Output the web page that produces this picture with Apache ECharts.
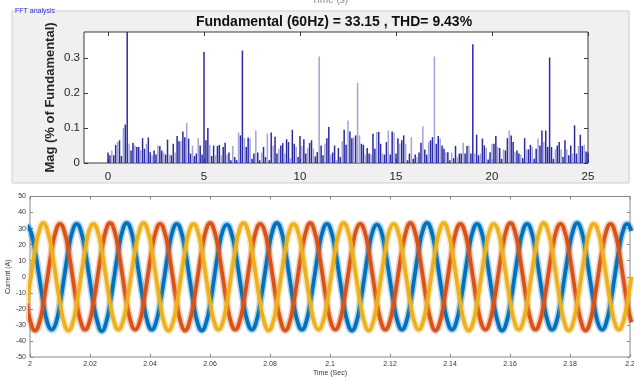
<!DOCTYPE html>
<html><head><meta charset="utf-8">
<script src="https://cdn.jsdelivr.net/npm/echarts@6/dist/echarts.min.js"></script>
<style>html,body{margin:0;padding:0;background:#fff}#c{width:634px;height:381px}</style>
</head><body><div id="c"></div>
<script>
// ---- FFT panel data: harmonic order 0..25 step 0.1, magnitude (% of fundamental)
const harmonicStep = 0.1;
const harmonicMag = [
  0.03, 0.022, 0.036, 0.022, 0.052, 0.06, 0.065, 0.02, 0.1, 0.11,
  100, 0.055, 0.036, 0.057, 0.05, 0.046, 0.046, 0.036, 0.071, 0.041,
  0.055, 0.073, 0.031, 0.022, 0.036, 0.024, 0.05, 0.049, 0.036, 0.03,
  0.024, 0.067, 0.024, 0.022, 0.055, 0.03, 0.077, 0.062, 0.062, 0.09,
  0.074, 0.115, 0.07, 0.027, 0.05, 0.02, 0.027, 0.071, 0.05, 0.024,
  0.318, 0.065, 0.1, 0.052, 0.02, 0.05, 0.022, 0.049, 0.052, 0.022,
  0.046, 0.058, 0.024, 0.03, 0.008, 0.049, 0.017, 0.008, 0.087, 0.079,
  0.322, 0.071, 0.046, 0.073, 0.071, 0.012, 0.027, 0.093, 0.03, 0.008,
  0.03, 0.046, 0.017, 0.084, 0.008, 0.087, 0.05, 0.075, 0.027, 0.041,
  0.05, 0.057, 0.027, 0.068, 0.06, 0.014, 0.095, 0.055, 0.046, 0.017,
  0.077, 0.049, 0.068, 0.027, 0.043, 0.057, 0.065, 0.041, 0.019, 0.031,
  0.305, 0.05, 0.022, 0.055, 0.071, 0.103, 0.024, 0.03, 0.05, 0.008,
  0.043, 0.017, 0.062, 0.095, 0.052, 0.122, 0.09, 0.071, 0.074, 0.079,
  0.23, 0.079, 0.055, 0.052, 0.024, 0.043, 0.027, 0.024, 0.084, 0.041,
  0.089, 0.089, 0.055, 0.027, 0.024, 0.06, 0.093, 0.024, 0.09, 0.087,
  0.027, 0.071, 0.055, 0.065, 0.079, 0.055, 0.008, 0.027, 0.074, 0.012,
  0.024, 0.017, 0.03, 0.058, 0.105, 0.039, 0.024, 0.06, 0.065, 0.074,
  0.305, 0.055, 0.077, 0.07, 0.05, 0.041, 0.031, 0.031, 0.008, 0.03,
  0.014, 0.049, 0.017, 0.027, 0.027, 0.058, 0.027, 0.049, 0.05, 0.027,
  0.34, 0.027, 0.081, 0.022, 0.027, 0.07, 0.05, 0.043, 0.01, 0.031,
  0.055, 0.055, 0.077, 0.046, 0.043, 0.012, 0.039, 0.036, 0.071, 0.093,
  0.079, 0.06, 0.031, 0.036, 0.027, 0.024, 0.014, 0.071, 0.039, 0.039,
  0.052, 0.046, 0.012, 0.041, 0.07, 0.05, 0.093, 0.06, 0.093, 0.046,
  0.302, 0.046, 0.012, 0.039, 0.05, 0.06, 0.039, 0.017, 0.065, 0.039,
  0.022, 0.05, 0.027, 0.108, 0.027, 0.049, 0.081, 0.049, 0.052, 0.033,
  0.03
];
const fftXTicks = [0, 5, 10, 15, 20, 25];
const fftYTicks = [0, 0.1, 0.2, 0.3];
const fftTitle = 'Fundamental (60Hz) = 33.15 , THD= 9.43%';

// ---- Three-phase current samples (A), sampled every timeStep seconds from timeStart
const timeStart = 1.9989;
const timeStep = 0.00139;
const phaseBlue = [
  32, 28, 16, 0, -16.5, -29, -33, -29, -16.5, 0, 16.5, 28.5,
  33, 28.5, 16.5, 0, -16.5, -28.5, -34, -29, -16.5, 0, 16.5, 29,
  33.5, 29, 16.5, 0.5, -16, -28.5, -33, -28.5, -16.5, -0.5, 16, 28.5,
  33, 28.5, 16.5, 0, -16.5, -29, -33.5, -29, -17, 0, 16.5, 28.5,
  32.5, 28, 16.5, 0, -16.5, -28.5, -33, -28.5, -16.5, 0, 16.5, 29,
  33.5, 29, 16.5, 0, -16.5, -28.5, -33, -28.5, -16, 0, 16.5, 28.5,
  33, 28.5, 16.5, 0, -16.5, -29, -33.5, -29, -16.5, 0, 16.5, 28.5,
  32.5, 28.5, 16, 0, -16.5, -28.5, -33, -28.5, -16.5, 0, 16.5, 29,
  33.5, 29, 16.5, 0, -16.5, -28.5, -33, -28.5, -16.5, 0, 16.5, 28.5,
  33, 28.5, 16.5, 0, -16.5, -28.5, -33.5, -29, -16.5, 0, 16.5, 28.5,
  33, 28.5, 16.5, 0, -16.5, -28.5, -33, -28.5, -16.5, 0, 16.5, 28.5,
  33.5, 29, 16.5, 0, -16.5, -29, -33, -28.5, -16.5, 0, 16.5, 28.5,
  33, 28.5
];
const phaseRed = [
  -16.5, -29, -33.5, -29, -16.5, 0, 16.5, 28.5, 33, 28.5, 16.5, 0,
  -16.5, -28.5, -33, -28.5, -16.5, 0, 16.5, 29, 33.5, 29, 16.5, 0,
  -16.5, -28.5, -33, -29, -16.5, 0, 16.5, 28.5, 33, 28.5, 16.5, 0,
  -16.5, -29, -33.5, -28.5, -16.5, 0, 16.5, 29, 33.5, 28.5, 16.5, 0,
  -16.5, -28.5, -33, -28.5, -16.5, 0, 16.5, 28.5, 33, 29, 16.5, 0,
  -16.5, -28.5, -33.5, -29, -16.5, 0, 16.5, 28.5, 33.5, 28.5, 16.5, 0,
  -16.5, -29, -33, -28.5, -16.5, 0, 16.5, 29, 33, 28.5, 16.5, 0,
  -16.5, -28.5, -33, -28.5, -16.5, 0, 16.5, 28.5, 33.5, 29, 16.5, 0,
  -16.5, -28.5, -33.5, -29, -16.5, 0, 16.5, 28.5, 33, 28.5, 16.5, 0,
  -16.5, -29, -33, -28.5, -16.5, 0, 16.5, 29, 33.5, 29, 16.5, 0,
  -16.5, -28.5, -33, -28.5, -16.5, 0, 16.5, 28.5, 33, 28.5, 16.5, 0,
  -16.5, -28.5, -33.5, -29, -16.5, 0, 16.5, 28.5, 33, 28.5, 16.5, 0,
  -16.5, -28.5
];
const phaseYellow = [
  -16.5, 0, 16.5, 28.5, 33.5, 28.5, 16.5, 0, -16.5, -29, -33.5, -29,
  -16.5, 0, 16.5, 29, 33, 28.5, 16.5, 0, -16.5, -28.5, -33, -28.5,
  -16.5, 0, 16.5, 28.5, 33.5, 29, 16.5, 0, -16.5, -29, -33.5, -29,
  -16.5, 0, 16.5, 28.5, 33, 28.5, 16.5, 0, -16.5, -28.5, -33, -28.5,
  -16.5, 0, 16.5, 29, 33.5, 29, 16.5, 0, -16.5, -28.5, -33.5, -29,
  -16.5, 0, 16.5, 28.5, 33, 28.5, 16.5, 0, -16.5, -29, -33, -28.5,
  -16.5, 0, 16.5, 28.5, 33.5, 29, 16.5, 0, -16.5, -28.5, -33.5, -29,
  -16.5, 0, 16.5, 29, 33, 28.5, 16.5, 0, -16.5, -28.5, -33, -28.5,
  -16.5, 0, 16.5, 28.5, 33.5, 28.5, 16.5, 0, -16.5, -29, -33.5, -29,
  -16.5, 0, 16.5, 28.5, 33, 29, 16.5, 0, -16.5, -28.5, -33, -28.5,
  -16.5, 0, 16.5, 29, 33.5, 28.5, 16.5, 0, -16.5, -29, -33.5, -29,
  -16.5, 0, 16.5, 28.5, 33, 28.5, 16.5, 0, -16.5, -28.5, -33, -28.5,
  -16.5, 0
];
const phaseColors = ['#0072BD', '#D95319', '#EDB120'];

const FONT = 'Liberation Sans, Arial, sans-serif';
const chart = echarts.init(document.getElementById('c'), null, {renderer: 'canvas'});

const toPairs = arr => arr.map((v, k) => [timeStart + k * timeStep, v]);
const fftData = harmonicMag.map((v, i) => [Math.round(i * harmonicStep * 10) / 10, v]);
const lightPeaks = [110, 130, 170], darkPeaks = [10, 50, 70, 190, 230];
const barColor = p => {
  const i = p.dataIndex;
  const light = lightPeaks.includes(i) || (!darkPeaks.includes(i) && i % 3 === 2);
  return light ? '#a3a3d8' : '#2a2aa3';
};

const fftAxisLabel = {fontSize: 11.5, color: '#262626', fontFamily: FONT};
const tickStyle = c => ({lineStyle: {color: c, width: 1}});
const noLine = {show: false, onZero: false};

const waveSeries = [];
[phaseBlue, phaseRed, phaseYellow].forEach((arr, n) => {
  waveSeries.push({
    type: 'line', xAxisIndex: 2, yAxisIndex: 2, data: toPairs(arr), smooth: true,
    showSymbol: false, silent: true, animation: false,
    lineStyle: {color: phaseColors[n], width: 7, opacity: 0.3}
  });
  waveSeries.push({
    type: 'line', xAxisIndex: 2, yAxisIndex: 2, data: toPairs(arr), smooth: true,
    showSymbol: false, silent: true, animation: false,
    lineStyle: {color: phaseColors[n], width: 3.8}
  });
});

chart.setOption({
  animation: false,
  backgroundColor: '#ffffff',
  graphic: [
    {type: 'rect', z: -10, shape: {x: 12, y: 11, width: 617, height: 172},
     style: {fill: '#f0f0f0', stroke: '#cfcfcf', lineWidth: 1}},
    {type: 'text', z: 5, x: 14, y: 8,
     style: {text: 'FFT analysis', fontSize: 7, fill: '#2b2bd6', fontFamily: FONT,
             backgroundColor: '#f0f0f0', padding: [0, 1]}},
    {type: 'text', z: 5, x: 334, y: 15,
     style: {text: fftTitle, fontSize: 14, fontWeight: 'bold', fill: '#111', fontFamily: FONT, align: 'center'}},
    {type: 'text', z: 5, x: 330, y: -5,
     style: {text: 'Time (s)', fontSize: 10, fill: '#888', fontFamily: FONT, align: 'center'}}
  ],
  grid: [
    {left: 84, top: 32, width: 504, height: 131, show: true, backgroundColor: '#fff',
     borderColor: '#3a3a3a', borderWidth: 1, outerBoundsMode: 'none', containLabel: false},
    {left: 30, top: 196.5, width: 600, height: 160.5, show: true, backgroundColor: '#fff',
     borderColor: '#8a8a8a', borderWidth: 1, outerBoundsMode: 'none', containLabel: false}
  ],
  xAxis: [
    {gridIndex: 0, type: 'value', min: -1.25, max: 25, position: 'bottom',
     axisLine: noLine, splitLine: {show: false},
     axisTick: {show: true, inside: true, length: 4, customValues: fftXTicks, ...tickStyle('#3a3a3a')},
     axisLabel: {...fftAxisLabel, margin: 8, customValues: fftXTicks}},
    {gridIndex: 0, type: 'value', position: 'top', min: -1.25, max: 25,
     axisLine: noLine, splitLine: {show: false}, axisLabel: {show: false},
     axisTick: {show: true, inside: true, length: 4, customValues: fftXTicks, ...tickStyle('#3a3a3a')}},
    {gridIndex: 1, type: 'value', min: 2, max: 2.2, interval: 0.02, position: 'bottom',
     name: 'Time (Sec)', nameLocation: 'middle', nameGap: 13, nameMoveOverlap: false,
     nameTextStyle: {fontSize: 7, color: '#333', fontFamily: FONT},
     axisLine: noLine, splitLine: {show: false},
     axisTick: {show: true, inside: true, length: 3, ...tickStyle('#8a8a8a')},
     axisLabel: {fontSize: 7, color: '#333', margin: 4, fontFamily: FONT}},
    {gridIndex: 1, type: 'value', position: 'top', min: 2, max: 2.2, interval: 0.02,
     axisLine: noLine, splitLine: {show: false}, axisLabel: {show: false},
     axisTick: {show: true, inside: true, length: 3, ...tickStyle('#8a8a8a')}}
  ],
  yAxis: [
    {gridIndex: 0, type: 'value', min: 0, max: 0.375, position: 'left',
     name: 'Mag (% of Fundamental)', nameLocation: 'middle', nameGap: 27, nameMoveOverlap: false,
     nameTextStyle: {fontSize: 13, fontWeight: 'bold', color: '#262626', fontFamily: FONT},
     axisLine: noLine, splitLine: {show: false},
     axisTick: {show: true, inside: true, length: 4, customValues: fftYTicks, ...tickStyle('#3a3a3a')},
     axisLabel: {...fftAxisLabel, margin: 4, customValues: fftYTicks}},
    {gridIndex: 0, type: 'value', position: 'right', min: 0, max: 0.375,
     axisLine: noLine, splitLine: {show: false}, axisLabel: {show: false},
     axisTick: {show: true, inside: true, length: 4, customValues: fftYTicks, ...tickStyle('#3a3a3a')}},
    {gridIndex: 1, type: 'value', min: -50, max: 50, interval: 10, position: 'left',
     name: 'Current (A)', nameLocation: 'middle', nameGap: 18, nameMoveOverlap: false,
     nameTextStyle: {fontSize: 7, color: '#333', fontFamily: FONT},
     axisLine: noLine, splitLine: {show: false},
     axisTick: {show: true, inside: true, length: 3, ...tickStyle('#8a8a8a')},
     axisLabel: {fontSize: 7, color: '#333', margin: 4, fontFamily: FONT}},
    {gridIndex: 1, type: 'value', position: 'right', min: -50, max: 50, interval: 10,
     axisLine: noLine, splitLine: {show: false}, axisLabel: {show: false},
     axisTick: {show: true, inside: true, length: 3, ...tickStyle('#8a8a8a')}}
  ],
  series: [
    {type: 'bar', xAxisIndex: 0, yAxisIndex: 0, data: fftData, barWidth: 1.5,
     clip: true, silent: true, itemStyle: {color: barColor}},
    ...waveSeries
  ]
});
</script>
</body></html>
